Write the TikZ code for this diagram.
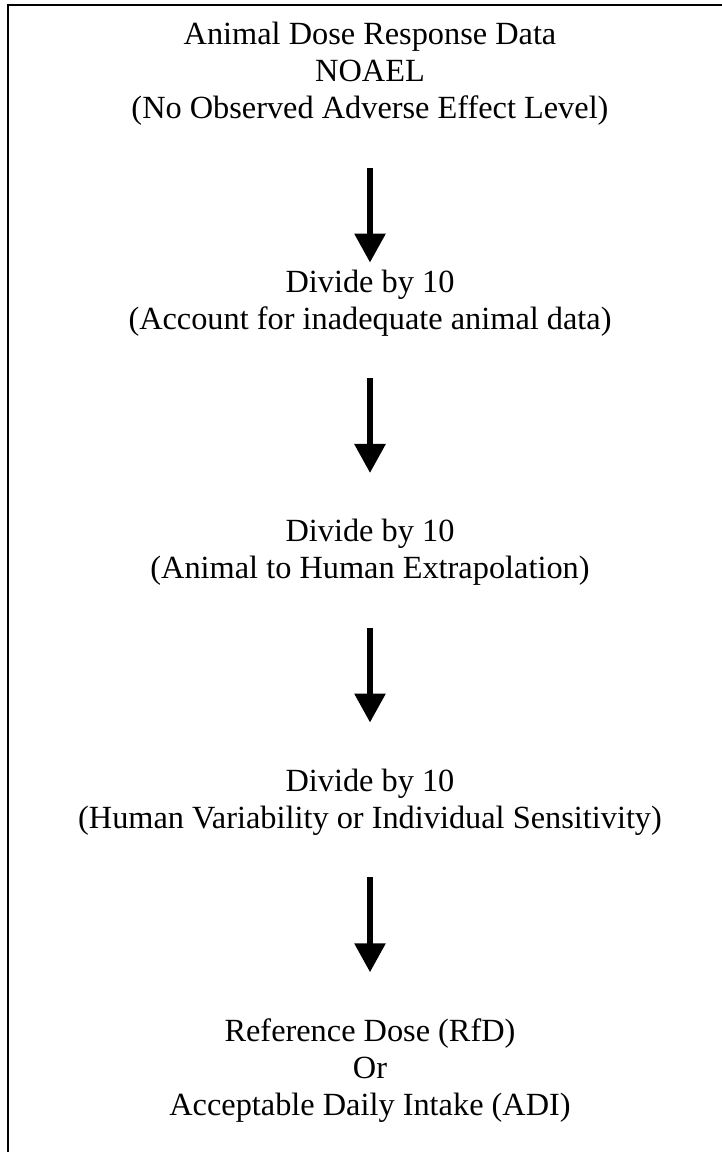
\documentclass[tikz,border=0pt]{standalone}
\usepackage{fontspec}
\setmainfont{Liberation Serif}
\usetikzlibrary{arrows.meta}
\tikzset{
    stagetext/.style={align=center, inner sep=0pt, font=\fontsize{23}{26.3}\selectfont},
    downarrow/.style={line width=4.2pt, -{Triangle[width=0.75cm,length=0.725cm]}, shorten <=1.05cm, shorten >=1.15cm}
}
\begin{document}
\begin{tikzpicture}
        \useasboundingbox (0, 0) rectangle (18.05, -28.8);
        \clip (0, 0) rectangle (18.05, -28.8);
        \draw[line width=1.4pt] (0.2, -0.125) rectangle (18.4, -29.2);

        \node[stagetext] (noael) at (9.25, -1.84) {Animal Dose Response Data\\NOAEL\\(No Observed Adverse Effect Level)};
        \node[stagetext] (animal) at (9.25, -7.575) {Divide by 10\\(Account for inadequate animal data)};
        \node[stagetext] (human) at (9.25, -13.81) {Divide by 10\\(Animal to Human Extrapolation)};
        \node[stagetext] (variab) at (9.25, -20.05) {Divide by 10\\(Human Variability or Individual Sensitivity)};
        \node[stagetext] (rfd) at (9.25, -26.76) {Reference Dose (RfD)\\Or\\Acceptable Daily Intake (ADI)};

        \draw[downarrow, shorten >=0.175cm] (noael.south) -- (animal.north);
        \draw[downarrow] (animal.south) -- (human.north);
        \draw[downarrow] (human.south) -- (variab.north);
        \draw[downarrow] (variab.south) -- (rfd.north);
\end{tikzpicture}
\end{document}
